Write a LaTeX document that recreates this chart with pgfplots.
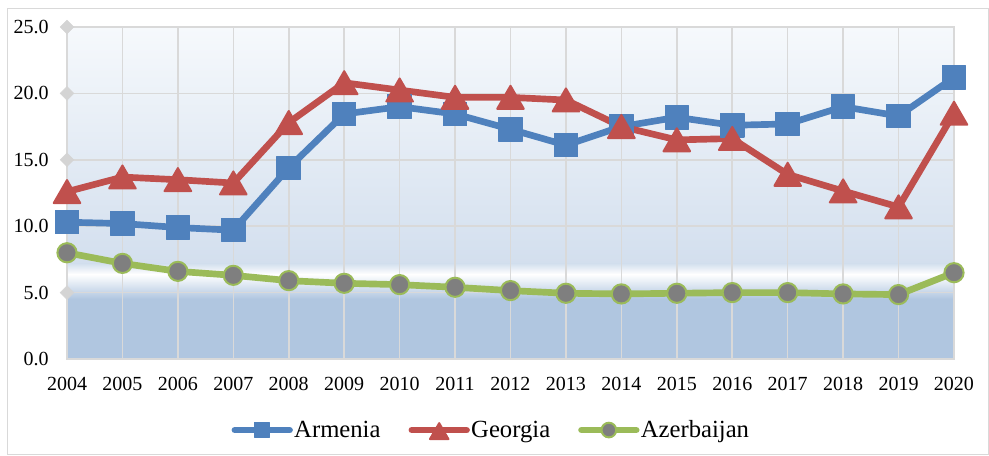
\documentclass[border=0pt]{standalone}
\usepackage{fontspec}
\setmainfont{Liberation Serif}
\usepackage{pgfplots}
\pgfplotsset{compat=1.18}
\definecolor{arm}{HTML}{4F81BD}
\definecolor{geo}{HTML}{C0504D}
\definecolor{aze}{HTML}{9BBB59}
\definecolor{dotc}{HTML}{7F7F7F}
\definecolor{gridc}{HTML}{D9D9D9}
\definecolor{diac}{HTML}{D4D4D4}
\definecolor{bgtop}{HTML}{F6F9FC}
\definecolor{bgmid}{HTML}{D3DFEE}
\definecolor{bglow}{HTML}{B0C6E0}
\begin{document}
\begin{tikzpicture}
\useasboundingbox (0,0) rectangle (741.75pt,341.25pt);
\draw[gridc, line width=0.75pt] (5.25pt,0.4pt) rectangle (741.3pt,335.25pt);
% background of plot area (value v -> 72pt + 9.96pt*v)
\shade[top color=bgtop, bottom color=bgmid] (50.25pt,143.7pt) rectangle (715.5pt,321pt);
\shade[top color=bgmid, bottom color=white] (50.25pt,135.5pt) rectangle (715.5pt,143.7pt);
\shade[top color=white, bottom color=bglow] (50.25pt,117pt) rectangle (715.5pt,135.5pt);
\fill[bglow] (50.25pt,72pt) rectangle (715.5pt,117pt);
\begin{axis}[
  at={(50.25pt,72pt)}, anchor=south west,
  width=665.25pt, height=249pt, scale only axis,
  xmin=2004, xmax=2020, ymin=0, ymax=25,
  xtick={2004,2005,...,2020},
  ytick={0,5,...,25},
  grid=major,
  major grid style={gridc, line width=1.2pt},
  axis line style={gridc, line width=1.2pt},
  tick style={draw=none},
  clip=false,
  /pgf/number format/assume math mode=true,
  tick label style={font=\fontsize{15}{18}\selectfont},
  xticklabel style={/pgf/number format/1000 sep={}, anchor=north, inner sep=0pt, yshift=-13.2pt},
  yticklabel style={/pgf/number format/fixed, /pgf/number format/fixed zerofill, /pgf/number format/precision=1, anchor=east, inner sep=0pt, xshift=-13.5pt},
  legend columns=3,
  legend style={at={(0.478,-0.214)}, anchor=center, draw=none, fill=none,
    font=\fontsize{18.5}{22}\selectfont,
    nodes={inner sep=1pt},
    /tikz/every even column/.append style={column sep=20pt}},
  legend image code/.code={\draw[mark repeat=2, mark phase=2, #1] plot coordinates {(0pt,0pt)(20.5pt,0pt)(41pt,0pt)};},
]
\addplot[forget plot, only marks, mark=square*, mark size=3.6pt, mark options={draw=diac, fill=diac, line width=0.4pt, rotate=45}] coordinates {(2004,5)(2004,10)(2004,15)(2004,20)(2004,25)};
\addplot[arm, line width=5pt, line cap=round, line join=round, mark=square*,
  mark size=8.8pt, mark options={solid, fill=arm, draw=arm, line width=0.8pt, line join=round},
  legend image post style={mark size=5.5pt}]
coordinates {(2004,10.3)(2005,10.2)(2006,9.9)(2007,9.7)(2008,14.4)(2009,18.45)(2010,19.0)(2011,18.45)(2012,17.3)(2013,16.1)(2014,17.5)(2015,18.2)(2016,17.6)(2017,17.7)(2018,19.0)(2019,18.3)(2020,21.2)};
\addlegendentry{Armenia}
\addplot[geo, line width=5pt, line cap=round, line join=round, mark=triangle*,
  mark size=11.5pt, mark options={solid, fill=geo, draw=geo, line width=1.5pt, line join=round, yshift=-2.8pt},
  legend image post style={mark size=8pt}]
coordinates {(2004,12.6)(2005,13.7)(2006,13.5)(2007,13.25)(2008,17.8)(2009,20.8)(2010,20.25)(2011,19.7)(2012,19.7)(2013,19.5)(2014,17.5)(2015,16.5)(2016,16.6)(2017,13.9)(2018,12.65)(2019,11.45)(2020,18.5)};
\addlegendentry{Georgia}
\addplot[aze, line width=5pt, line cap=round, line join=round, mark=*,
  mark size=7.2pt, mark options={solid, fill=dotc, draw=aze, line width=1.5pt},
  legend image post style={mark size=5.5pt}]
coordinates {(2004,8.0)(2005,7.2)(2006,6.6)(2007,6.3)(2008,5.9)(2009,5.7)(2010,5.6)(2011,5.4)(2012,5.15)(2013,4.95)(2014,4.9)(2015,4.95)(2016,5.0)(2017,5.0)(2018,4.9)(2019,4.85)(2020,6.5)};
\addlegendentry{Azerbaijan}
\end{axis}
\end{tikzpicture}
\end{document}
